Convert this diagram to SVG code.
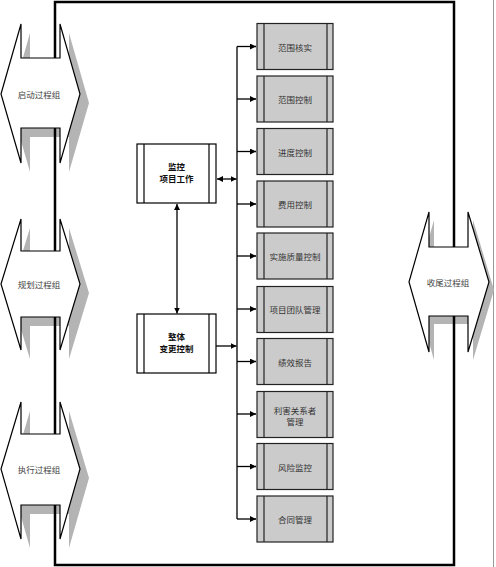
<svg xmlns="http://www.w3.org/2000/svg" width="496" height="567" viewBox="0 0 496 567">
<defs>
<style>
.shadow{fill:#b4b4b4;stroke:none}
.garrow{fill:#fff;stroke:#000;stroke-width:1.2;stroke-linejoin:miter}
.glabel{font-family:"Noto Sans CJK SC","Liberation Serif",serif;font-size:8.5px;fill:#444;text-anchor:middle;dominant-baseline:central}
.pbox{fill:#fff;stroke:#000;stroke-width:1.2}
.plabel{font-family:"Noto Sans CJK SC",sans-serif;font-size:8.5px;font-weight:bold;fill:#111;text-anchor:middle;dominant-baseline:central}
.sbox{fill:#cbcbcb;stroke:#222;stroke-width:1.2}
.slabel{font-family:"Noto Sans CJK SC","Liberation Serif",serif;font-size:8.5px;fill:#333;text-anchor:middle;dominant-baseline:central}
.conn{fill:none;stroke:#000;stroke-width:1.3}
.frame{fill:none;stroke:#000;stroke-width:2.5}
</style>
<marker id="ah" viewBox="0 0 10 10" refX="10" refY="5" markerWidth="6" markerHeight="6" markerUnits="userSpaceOnUse" orient="auto-start-reverse">
<path d="M0,0 L10,5 L0,10 Z" fill="#000"/>
</marker>
</defs>
<rect x="0" y="0" width="496" height="567" fill="#fff"/>
<line x1="493.5" y1="0" x2="493.5" y2="567" stroke="#999" stroke-width="1"/>

<!-- shadows -->
<g id="shadows">
<polygon class="shadow" transform="translate(9,9)" points="1,94 21,24 21,58 60,58 60,24 80,94 60,163 60,128 21,128 21,163"/>
<polygon class="shadow" transform="translate(9,9)" points="1,284 21,219 21,251 60,251 60,219 80,284 60,350 60,317 21,317 21,350"/>
<polygon class="shadow" transform="translate(9,9)" points="1,469 21,402 21,434 60,434 60,402 80,469 60,539 60,505 21,505 21,539"/>
<polygon class="shadow" transform="translate(5,8)" points="409,282 429,212 429,247 468,247 468,212 489,282 468,352 468,316 429,316 429,352"/>
</g>

<rect id="frame" class="frame" x="55" y="2" width="399" height="563"/>

<g id="initiating">
<polygon class="garrow" points="1,94 21,24 21,58 60,58 60,24 80,94 60,163 60,128 21,128 21,163"/>
<text class="glabel" x="39" y="94">启动过程组</text>
</g>
<g id="planning">
<polygon class="garrow" points="1,284 21,219 21,251 60,251 60,219 80,284 60,350 60,317 21,317 21,350"/>
<text class="glabel" x="39" y="284">规划过程组</text>
</g>
<g id="executing">
<polygon class="garrow" points="1,469 21,402 21,434 60,434 60,402 80,469 60,539 60,505 21,505 21,539"/>
<text class="glabel" x="39" y="469">执行过程组</text>
</g>
<g id="closing">
<polygon class="garrow" points="409,282 429,212 429,247 468,247 468,212 489,282 468,352 468,316 429,316 429,352"/>
<text class="glabel" x="448" y="282">收尾过程组</text>
</g>

<g id="monitor">
<rect class="pbox" x="137" y="144" width="79" height="59"/>
<line class="pbox" x1="144" y1="144" x2="144" y2="203"/>
<line class="pbox" x1="209" y1="144" x2="209" y2="203"/>
<text class="plabel" x="176.5" y="166">监控</text>
<text class="plabel" x="176.5" y="178">项目工作</text>
</g>
<g id="change">
<rect class="pbox" x="137" y="314" width="79" height="59"/>
<line class="pbox" x1="144" y1="314" x2="144" y2="373"/>
<line class="pbox" x1="209" y1="314" x2="209" y2="373"/>
<text class="plabel" x="176.5" y="336">整体</text>
<text class="plabel" x="176.5" y="348">变更控制</text>
</g>

<g id="b1"><rect class="sbox" x="257" y="23.5" width="76" height="46"/><line class="sbox" x1="264" y1="23.5" x2="264" y2="69.5"/><line class="sbox" x1="327" y1="23.5" x2="327" y2="69.5"/><text class="slabel" x="295" y="46.5">范围核实</text></g>
<g id="b2"><rect class="sbox" x="257" y="76" width="76" height="46"/><line class="sbox" x1="264" y1="76" x2="264" y2="122"/><line class="sbox" x1="327" y1="76" x2="327" y2="122"/><text class="slabel" x="295" y="99">范围控制</text></g>
<g id="b3"><rect class="sbox" x="257" y="128.5" width="76" height="46"/><line class="sbox" x1="264" y1="128.5" x2="264" y2="174.5"/><line class="sbox" x1="327" y1="128.5" x2="327" y2="174.5"/><text class="slabel" x="295" y="151.5">进度控制</text></g>
<g id="b4"><rect class="sbox" x="257" y="181" width="76" height="46"/><line class="sbox" x1="264" y1="181" x2="264" y2="227"/><line class="sbox" x1="327" y1="181" x2="327" y2="227"/><text class="slabel" x="295" y="204">费用控制</text></g>
<g id="b5"><rect class="sbox" x="257" y="233" width="76" height="46"/><line class="sbox" x1="264" y1="233" x2="264" y2="279"/><line class="sbox" x1="327" y1="233" x2="327" y2="279"/><text class="slabel" x="295" y="256">实施质量控制</text></g>
<g id="b6"><rect class="sbox" x="257" y="286.5" width="76" height="46"/><line class="sbox" x1="264" y1="286.5" x2="264" y2="332.5"/><line class="sbox" x1="327" y1="286.5" x2="327" y2="332.5"/><text class="slabel" x="295" y="309">项目团队管理</text></g>
<g id="b7"><rect class="sbox" x="257" y="338.5" width="76" height="46"/><line class="sbox" x1="264" y1="338.5" x2="264" y2="384.5"/><line class="sbox" x1="327" y1="338.5" x2="327" y2="384.5"/><text class="slabel" x="295" y="361.5">绩效报告</text></g>
<g id="b8"><rect class="sbox" x="257" y="391.5" width="76" height="46"/><line class="sbox" x1="264" y1="391.5" x2="264" y2="437.5"/><line class="sbox" x1="327" y1="391.5" x2="327" y2="437.5"/><text class="slabel" x="295" y="409.5">利害关系者</text><text class="slabel" x="295" y="420.5">管理</text></g>
<g id="b9"><rect class="sbox" x="257" y="443.5" width="76" height="46"/><line class="sbox" x1="264" y1="443.5" x2="264" y2="489.5"/><line class="sbox" x1="327" y1="443.5" x2="327" y2="489.5"/><text class="slabel" x="295" y="466.5">风险监控</text></g>
<g id="b10"><rect class="sbox" x="257" y="496" width="76" height="46"/><line class="sbox" x1="264" y1="496" x2="264" y2="542"/><line class="sbox" x1="327" y1="496" x2="327" y2="542"/><text class="slabel" x="295" y="519">合同管理</text></g>

<g id="connectors">
<line class="conn" x1="237" y1="46.5" x2="237" y2="519"/>
<line class="conn" x1="237" y1="46.5" x2="256" y2="46.5" marker-end="url(#ah)"/>
<line class="conn" x1="237" y1="99" x2="256" y2="99" marker-end="url(#ah)"/>
<line class="conn" x1="237" y1="151.5" x2="256" y2="151.5" marker-end="url(#ah)"/>
<line class="conn" x1="237" y1="204" x2="256" y2="204" marker-end="url(#ah)"/>
<line class="conn" x1="237" y1="256" x2="256" y2="256" marker-end="url(#ah)"/>
<line class="conn" x1="237" y1="309" x2="256" y2="309" marker-end="url(#ah)"/>
<line class="conn" x1="237" y1="361.5" x2="256" y2="361.5" marker-end="url(#ah)"/>
<line class="conn" x1="237" y1="414" x2="256" y2="414" marker-end="url(#ah)"/>
<line class="conn" x1="237" y1="466.5" x2="256" y2="466.5" marker-end="url(#ah)"/>
<line class="conn" x1="237" y1="519" x2="256" y2="519" marker-end="url(#ah)"/>
<line class="conn" x1="217" y1="179" x2="236.5" y2="179" marker-start="url(#ah)" marker-end="url(#ah)"/>
<line class="conn" x1="216" y1="346" x2="236.5" y2="346" marker-end="url(#ah)"/>
<line class="conn" x1="177" y1="204" x2="177" y2="313.5" marker-start="url(#ah)" marker-end="url(#ah)"/>
</g>
</svg>
